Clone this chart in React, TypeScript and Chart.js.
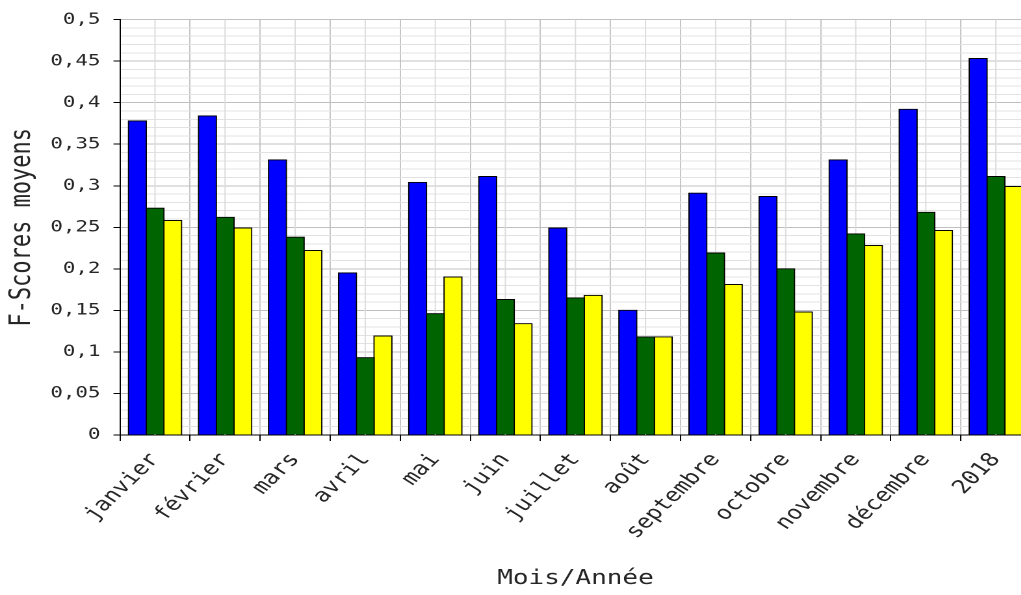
import React, { useEffect, useRef } from "react";
import { Chart, registerables } from "chart.js";

Chart.register(...registerables);

const categories = ["janvier", "février", "mars", "avril", "mai", "juin", "juillet", "août", "septembre", "octobre", "novembre", "décembre", "2018"];
const blueSeries = [0.378, 0.384, 0.331, 0.195, 0.304, 0.311, 0.249, 0.150, 0.291, 0.287, 0.331, 0.392, 0.453];
const greenSeries = [0.273, 0.262, 0.238, 0.093, 0.146, 0.163, 0.165, 0.118, 0.219, 0.200, 0.242, 0.268, 0.311];
const yellowSeries = [0.258, 0.249, 0.222, 0.119, 0.190, 0.134, 0.168, 0.118, 0.181, 0.148, 0.228, 0.246, 0.299];
const seriesNames = ["Série 1", "Série 2", "Série 3"];
const xTitle = "Mois/Année";
const yTitle = "F-Scores moyens";
const yMin = 0;
const yMax = 0.5;
const yMinorStep = 0.01;

const FONT = "'DejaVu Sans Mono', monospace";
const TEXT = "#262626";
const SX = 1.3;

function fmt(v: number) {
  const r = Math.round(v * 100) / 100;
  return String(r).replace(".", ",");
}
function isMajor(v: number) {
  return Math.round(v * 100) % 5 === 0;
}

const centerLines = {
  id: "centerLines",
  beforeDatasetsDraw(chart: any) {
    const { ctx, chartArea, scales } = chart;
    const x = scales.x;
    ctx.save();
    ctx.strokeStyle = "#dcdcdc";
    ctx.lineWidth = 1;
    categories.forEach((_, i) => {
      const px = x.getPixelForValue(i);
      ctx.beginPath();
      ctx.moveTo(px, chartArea.top);
      ctx.lineTo(px, chartArea.bottom);
      ctx.stroke();
    });
    ctx.restore();
  },
};

export default function App() {
  const ref = useRef<HTMLCanvasElement | null>(null);
  useEffect(() => {
    if (!ref.current) return;
    const chart = new Chart(ref.current, {
      type: "bar",
      data: {
        labels: categories,
        datasets: [
          { label: seriesNames[0], data: blueSeries, backgroundColor: "#0000ff", borderColor: "#000000", borderWidth: 1 },
          { label: seriesNames[1], data: greenSeries, backgroundColor: "#006400", borderColor: "#000000", borderWidth: 1 },
          { label: seriesNames[2], data: yellowSeries, backgroundColor: "#ffff00", borderColor: "#000000", borderWidth: 1 },
        ],
      },
      options: {
        animation: false,
        responsive: false,
        devicePixelRatio: 2,
        layout: { padding: { top: 17, right: 7, bottom: 0, left: 0 } },
        plugins: { legend: { display: false }, tooltip: { enabled: false } },
        datasets: { bar: { categoryPercentage: 0.757, barPercentage: 1, inflateAmount: 0.6 } },
        scales: {
          x: {
            grid: { offset: true, color: "#c4c4c4", tickColor: "#000000", tickLength: 6 },
            border: { color: "#000000", width: 1 },
            ticks: {
              font: { family: FONT, size: 19 },
              color: TEXT,
              minRotation: 51,
              maxRotation: 51,
              autoSkip: false,
              padding: 8,
            },
            title: { display: true, text: xTitle, font: { family: FONT, size: 20 }, color: TEXT, padding: { top: 4, bottom: 4 } },
            afterFit: (s: any) => {
              s.height = 160;
            },
          },
          y: {
            min: yMin,
            max: yMax,
            ticks: {
              stepSize: yMinorStep,
              autoSkip: false,
              font: { family: FONT, size: 16 },
              color: TEXT,
              padding: 10,
              callback: (v: any) => (isMajor(Number(v)) ? fmt(Number(v)) : ""),
            },
            grid: {
              color: (c: any) => (isMajor(c.tick.value) ? "#c0c0c0" : "#e2e2e2"),
              tickColor: (c: any) => (isMajor(c.tick.value) ? "#000000" : "rgba(0,0,0,0)"),
              tickLength: 5,
            },
            border: { color: "#000000", width: 1 },
            title: { display: true, text: yTitle, font: { family: FONT, size: 22 }, color: TEXT, padding: { top: 4, bottom: 4 } },
            afterFit: (s: any) => {
              s.width = 92.3;
            },
          },
        },
      },
      plugins: [centerLines],
    } as any);
    return () => chart.destroy();
  }, []);

  return (
    <div style={{ position: "absolute", left: 0, top: 0, width: 1021, height: 595, overflow: "hidden", background: "#ffffff" }}>
      <div style={{ width: 800, height: 595, transform: `scaleX(${SX})`, transformOrigin: "0 0" }}>
        <canvas ref={ref} width={800} height={595} />
      </div>
    </div>
  );
}
